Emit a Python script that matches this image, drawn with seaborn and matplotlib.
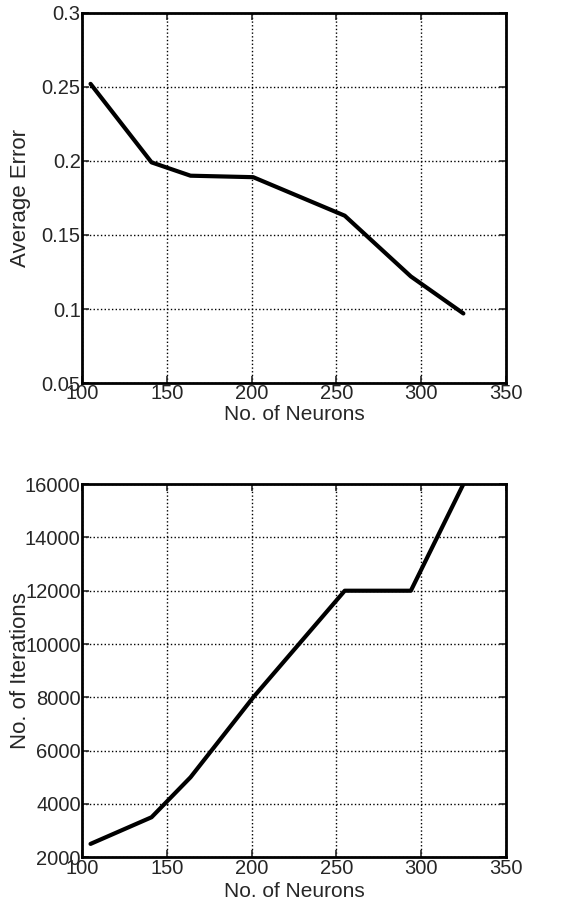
import matplotlib
matplotlib.use('Agg')
import matplotlib.pyplot as plt
import seaborn as sns
import pandas as pd

# values
neurons = [105, 141, 164, 201, 255, 294, 325]
avg_error = [0.252, 0.199, 0.190, 0.189, 0.163, 0.122, 0.097]
neurons_it = [105, 141, 164, 201, 255, 294, 325]
iterations = [2500, 3500, 5000, 8000, 12000, 12000, 16000]

sns.set_style('ticks')
plt.rcParams['font.family'] = ['Liberation Sans', 'DejaVu Sans']
plt.rcParams['xtick.direction'] = 'in'
plt.rcParams['ytick.direction'] = 'in'

fig = plt.figure(figsize=(5.82, 9.10), dpi=100)
ax1 = fig.add_axes([0.141, 0.579, 0.728, 0.407])
ax2 = fig.add_axes([0.141, 0.058, 0.728, 0.410])

df1 = pd.DataFrame({'x': neurons, 'y': avg_error})
df2 = pd.DataFrame({'x': neurons_it, 'y': iterations})

sns.lineplot(data=df1, x='x', y='y', ax=ax1, color='black', linewidth=3.0, sort=False)
sns.lineplot(data=df2, x='x', y='y', ax=ax2, color='black', linewidth=3.0, sort=False)

ax1.set_xlim(100, 350)
ax1.set_ylim(0.05, 0.3)
ax1.set_yticks([0.05, 0.1, 0.15, 0.2, 0.25, 0.3])
ax1.set_yticklabels(['0.05', '0.1', '0.15', '0.2', '0.25', '0.3'])
ax1.set_ylabel('Average Error')

ax2.set_xlim(100, 350)
ax2.set_ylim(2000, 16000)
ax2.set_yticks(range(2000, 16001, 2000))
ax2.set_ylabel('No. of Iterations')

for ax in (ax1, ax2):
    ax.set_xticks(range(100, 351, 50))
    ax.set_xlabel('No. of Neurons', fontsize=15)
    ax.yaxis.label.set_fontsize(16)
    ax.grid(True, color='black', linestyle=':', linewidth=1)
    ax.tick_params(labelsize=14.5, width=1.2, length=5, top=True, right=True, pad=1)
    for s in ax.spines.values():
        s.set_linewidth(2)
        s.set_color('black')
    ax.yaxis.set_label_coords(-0.12, 0.5)

ax1.xaxis.set_label_coords(0.5, -0.058)
ax2.xaxis.set_label_coords(0.5, -0.067)

fig.savefig('out.png', dpi=100)
